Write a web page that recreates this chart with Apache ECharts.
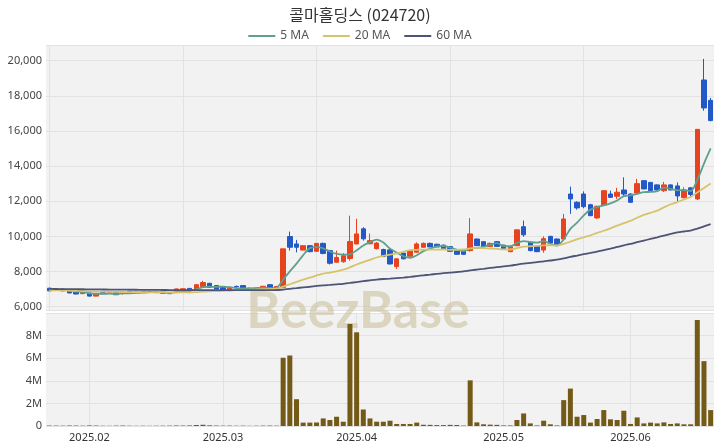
<!DOCTYPE html>
<html><head><meta charset="utf-8">
<script src="https://cdn.jsdelivr.net/npm/echarts@6.0.0/dist/echarts.min.js"></script>
<style>html,body{margin:0;padding:0;background:#fff}#c{width:720px;height:448px}</style>
</head><body><div id="c"></div>
<script>
const dates = [
 '2025-01-20','2025-01-21','2025-01-22','2025-01-23','2025-01-24','2025-01-31',
 '2025-02-03','2025-02-04','2025-02-05','2025-02-06','2025-02-07','2025-02-10','2025-02-11','2025-02-12','2025-02-13','2025-02-14',
 '2025-02-17','2025-02-18','2025-02-19','2025-02-20','2025-02-21','2025-02-24','2025-02-25','2025-02-26','2025-02-27','2025-02-28',
 '2025-03-04','2025-03-05','2025-03-06','2025-03-07','2025-03-10','2025-03-11','2025-03-12','2025-03-13','2025-03-14','2025-03-17',
 '2025-03-18','2025-03-19','2025-03-20','2025-03-21','2025-03-24','2025-03-25','2025-03-26','2025-03-27','2025-03-28','2025-03-31',
 '2025-04-01','2025-04-02','2025-04-03','2025-04-04','2025-04-07','2025-04-08','2025-04-09','2025-04-10','2025-04-11','2025-04-14',
 '2025-04-15','2025-04-16','2025-04-17','2025-04-18','2025-04-21','2025-04-22','2025-04-23','2025-04-24','2025-04-25','2025-04-28',
 '2025-04-29','2025-04-30',
 '2025-05-02','2025-05-07','2025-05-08','2025-05-09','2025-05-12','2025-05-13','2025-05-14','2025-05-15','2025-05-16','2025-05-19',
 '2025-05-20','2025-05-21','2025-05-22','2025-05-23','2025-05-26','2025-05-27','2025-05-28','2025-05-29','2025-05-30',
 '2025-06-02','2025-06-04','2025-06-05','2025-06-09','2025-06-10','2025-06-11','2025-06-12','2025-06-13','2025-06-16','2025-06-17',
 '2025-06-18','2025-06-19','2025-06-20'
];
const opens = [7050,6920,7000,6920,6850,6740,6780,6600,6800,6760,
 6820,6760,6880,6800,6820,6860,6840,6820,6800,6880,
 6900,7040,6970,7140,7330,7200,7100,6910,7150,7200,
 7050,6980,6970,7250,6980,7100,9990,9570,9220,9470,
 9150,9600,9190,8530,8560,8740,9570,10430,9580,9300,
 9250,9230,8280,9050,8870,9100,9380,9600,9550,9500,
 9420,9190,9150,9190,9850,9700,9430,9700,9500,9130,
 9470,10550,9650,9420,9220,10000,9850,9850,12410,11940,
 12410,11800,11050,11790,12410,12280,12640,12410,12470,13170,
 13070,12930,12600,12930,12870,12200,12760,12130,18900,17740];
const closes = [6900,7000,6900,6780,6720,6800,6600,6760,6740,6800,
 6680,6790,6800,6840,6860,6820,6800,6760,6740,7010,
 7020,6920,7250,7370,7100,7010,6950,7100,7140,7010,
 7000,7050,7160,7060,7150,9290,9380,9380,9470,9130,
 9600,9030,8470,8800,8900,9710,10140,9860,9760,9620,
 8850,8430,8720,8720,9190,9570,9600,9400,9400,9290,
 9150,8980,8980,10140,9470,9430,9600,9430,9310,9420,
 10370,10090,9190,9130,9870,9620,9530,10990,12130,11620,
 11690,11180,11710,12600,12220,12510,12410,11940,13000,12700,
 12600,12640,12930,12640,12300,12640,12380,16090,17310,16590];
const lows = [6880,6900,6880,6760,6700,6720,6580,6590,6720,6740,
 6660,6680,6780,6780,6800,6800,6780,6740,6720,6860,
 6880,6900,6950,7100,7080,6990,6930,6890,7080,6990,
 6980,6960,6950,7040,6960,7050,9190,9090,9200,9100,
 9120,8980,8400,8500,8500,8620,9550,9760,9550,9250,
 8820,8400,8150,8700,8850,9080,9360,9380,9380,9270,
 9130,8960,8960,9130,9450,9400,9410,9400,9290,9100,
 9450,9980,9150,9100,9070,9600,9500,9820,11280,11520,
 11600,11150,10990,11750,12180,12130,12300,11900,12430,12680,
 12580,12620,12530,12620,11970,12170,12220,12070,17150,16550];
const highs = [7080,7030,7020,6940,6870,6820,6800,6780,6820,6820,
 6840,6880,6900,6860,6880,6880,6860,6840,6820,7030,
 7040,7060,7270,7470,7350,7220,7120,7120,7200,7220,
 7070,7070,7180,7270,7170,9290,10270,9800,9500,9500,
 9620,9650,9230,9190,9050,11180,11000,10520,10160,9680,
 9300,9280,8750,9080,9200,9660,9650,9650,9580,9530,
 9450,9200,9170,11040,9880,9720,9650,9740,9520,9450,
 10400,10900,9700,9450,10000,10030,9880,11280,12830,12000,
 12560,11850,11750,12620,12600,12760,13360,12450,13270,13200,
 13100,12960,13100,12960,13070,12790,12800,16090,20100,17880];
const volumes = [40000,35000,30000,45000,40000,30000,50000,40000,25000,20000,
 35000,40000,25000,20000,25000,20000,25000,30000,35000,45000,
 40000,50000,90000,110000,60000,40000,30000,35000,25000,30000,
 20000,25000,35000,40000,30000,6040000,6240000,2370000,300000,300000,
 310000,670000,530000,820000,380000,9030000,8290000,1460000,670000,380000,
 380000,470000,180000,180000,180000,300000,110000,100000,80000,80000,
 100000,90000,40000,4040000,320000,150000,120000,100000,50000,50000,
 530000,1110000,230000,50000,470000,150000,50000,2290000,3310000,820000,
 970000,300000,620000,1410000,590000,530000,1350000,180000,760000,230000,
 300000,230000,320000,180000,230000,150000,150000,9380000,5740000,1410000];
const ma5 = [6980,6980,6960,6930,6860,6840,6760,6732,6724,6740,
 6716,6754,6762,6782,6794,6822,6824,6816,6796,6826,
 6866,6890,6988,7114,7132,7130,7136,7106,7060,7042,
 7040,7060,7072,7056,7084,7542,8008,8452,8934,9330,
 9392,9322,9140,9006,8960,8982,9204,9482,9674,9818,
 9646,9304,9076,8868,8782,8926,9160,9296,9432,9452,
 9368,9244,9160,9308,9344,9400,9524,9614,9448,9438,
 9626,9724,9676,9640,9730,9580,9468,9828,10428,10778,
 11192,11522,11666,11760,11880,12044,12290,12336,12416,12512,
 12530,12576,12774,12702,12622,12630,12578,13210,14144,15002];
const ma20 = [6930,6925,6920,6910,6900,6890,6875,6865,6855,6848,
 6840,6835,6830,6825,6820,6816,6812,6809,6806,6805,
 6811,6807,6825,6854,6873,6884,6901,6918,6938,6949,
 6965,6978,6996,7007,7021,7145,7274,7405,7541,7647,
 7776,7882,7943,8014,8104,8239,8399,8537,8668,8798,
 8891,8960,9038,9121,9223,9237,9248,9249,9245,9253,
 9231,9228,9254,9321,9349,9335,9308,9287,9264,9254,
 9330,9413,9437,9457,9491,9494,9490,9570,9706,9823,
 9950,10060,10196,10319,10457,10611,10751,10877,11061,11225,
 11337,11464,11651,11827,11948,12099,12242,12497,12756,13004];
const ma60 = [7010,7005,7002,6998,6994,6990,6985,6981,6977,6974,
 6970,6967,6964,6961,6958,6955,6952,6949,6946,6944,
 6943,6942,6943,6945,6946,6946,6945,6945,6945,6944,
 6943,6942,6942,6941,6940,6975,7016,7056,7098,7134,
 7178,7213,7238,7269,7302,7348,7401,7450,7497,7541,
 7573,7598,7627,7657,7694,7738,7782,7823,7864,7903,
 7940,7973,8008,8064,8110,8154,8204,8248,8291,8335,
 8396,8451,8491,8529,8579,8626,8671,8742,8832,8909,
 8987,9058,9132,9219,9305,9397,9488,9568,9666,9761,
 9854,9947,10043,10136,10222,10278,10328,10440,10571,10695];

const upColor = '#e8431f', downColor = '#2259c6';
const gridLine = '#e2e2e2';
const candles = dates.map((d, i) => [opens[i], closes[i], lows[i], highs[i]]);
const monthStarts = new Set();
dates.forEach((d, i) => { if (i > 0 && d.slice(5, 7) !== dates[i - 1].slice(5, 7)) monthStarts.add(i); });

const chart = echarts.init(document.getElementById('c'), null, {renderer: 'canvas'});
chart.setOption({
  animation: false,
  backgroundColor: '#ffffff',
  textStyle: {fontFamily: '"Noto Sans", "Noto Sans CJK KR", sans-serif'},
  title: {
    text: '콜마홀딩스 (024720)', left: 'center', top: 2,
    textStyle: {fontSize: 16, fontWeight: 'normal', color: '#333', fontFamily: '"Noto Sans CJK KR", sans-serif'}
  },
  legend: {
    top: 25, left: 'center', icon: 'rect', itemWidth: 27, itemHeight: 2, itemGap: 14,
    textStyle: {fontSize: 12, color: '#555'},
    data: ['5 MA', '20 MA', '60 MA']
  },
  grid: [
    {left: 46, right: 6, top: 45, height: 265, show: true, backgroundColor: '#f2f2f2', borderWidth: 0},
    {left: 46, right: 6, top: 313, height: 113, show: true, backgroundColor: '#f2f2f2', borderWidth: 0}
  ],
  xAxis: [
    {type: 'category', gridIndex: 0, data: dates, boundaryGap: true,
     axisLine: {show: false}, axisTick: {show: false}, axisLabel: {show: false},
     splitLine: {show: true, interval: (i) => i % 20 === 0, alignWithLabel: true, lineStyle: {color: gridLine}}},
    {type: 'category', gridIndex: 1, data: dates, boundaryGap: true,
     axisLine: {show: false}, axisTick: {show: false},
     axisLabel: {interval: (i) => monthStarts.has(i), formatter: (v) => v.slice(0, 4) + '.' + v.slice(5, 7),
                 fontSize: 11, color: '#333', margin: 6},
     splitLine: {show: true, interval: (i) => monthStarts.has(i), alignWithLabel: true, lineStyle: {color: gridLine}}}
  ],
  yAxis: [
    {type: 'value', gridIndex: 0, min: 5810, max: 20890, splitNumber: 7,
     axisLine: {show: false}, axisTick: {show: false},
     axisLabel: {showMinLabel: false, showMaxLabel: false, fontSize: 11, color: '#444', margin: 4,
                 formatter: (v) => v.toLocaleString('en-US')},
     splitLine: {lineStyle: {color: gridLine}}},
    {type: 'value', gridIndex: 1, min: 0, max: 10000000, interval: 2000000,
     axisLine: {show: false}, axisTick: {show: false},
     axisLabel: {showMaxLabel: false, fontSize: 11, color: '#444', margin: 4,
                 formatter: (v) => v === 0 ? '0' : (v / 1000000) + 'M'},
     splitLine: {lineStyle: {color: gridLine}}}
  ],
  graphic: [{
    type: 'text', x: 358, y: 311, z: 1, silent: true,
    style: {text: 'BeezBase', font: 'bold 52px Lato', fill: 'rgba(200,188,148,0.55)',
            textAlign: 'center', textVerticalAlign: 'middle'}
  }],
  series: [
    {type: 'candlestick', name: 'price', xAxisIndex: 0, yAxisIndex: 0, data: candles, barWidth: 5,
     itemStyle: {color: upColor, color0: downColor, borderColor: upColor, borderColor0: downColor, borderWidth: 1}},
    {type: 'line', name: '5 MA', xAxisIndex: 0, yAxisIndex: 0, data: ma5, showSymbol: false, smooth: 0.3,
     itemStyle: {color: '#5e9f8e'}, lineStyle: {width: 1.8, color: '#5e9f8e'}},
    {type: 'line', name: '20 MA', xAxisIndex: 0, yAxisIndex: 0, data: ma20, showSymbol: false, smooth: 0.3,
     itemStyle: {color: '#d6c36c'}, lineStyle: {width: 1.8, color: '#d6c36c'}},
    {type: 'line', name: '60 MA', xAxisIndex: 0, yAxisIndex: 0, data: ma60, showSymbol: false, smooth: 0.3,
     itemStyle: {color: '#4d5478'}, lineStyle: {width: 1.8, color: '#4d5478'}},
    {type: 'bar', name: 'volume', xAxisIndex: 1, yAxisIndex: 1, data: volumes, barWidth: 5,
     itemStyle: {color: '#735a17'}}
  ]
});
</script>
</body></html>
